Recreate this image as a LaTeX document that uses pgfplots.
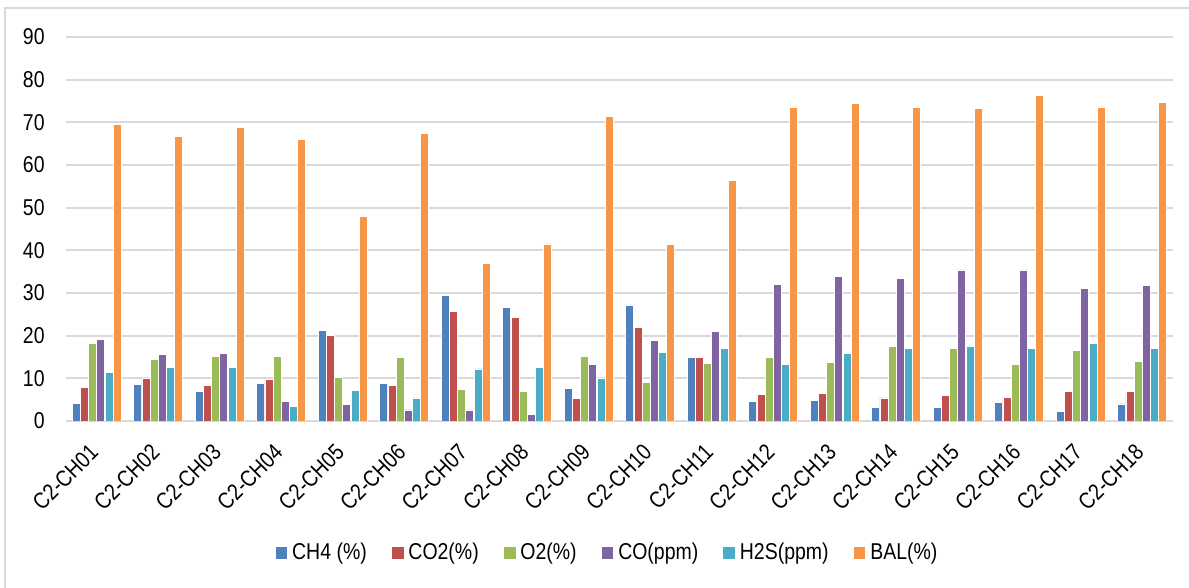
\documentclass[border=0pt]{standalone}
\usepackage{fontspec}
\setmainfont{Liberation Sans}[FakeStretch=0.85]
\usepackage{pgfplots}
\pgfplotsset{compat=1.18}

\definecolor{cCH}{HTML}{4F81BD}
\definecolor{cCO2}{HTML}{C0504D}
\definecolor{cO}{HTML}{9BBB59}
\definecolor{cCO}{HTML}{8064A2}
\definecolor{cH}{HTML}{4BACC6}
\definecolor{cBAL}{HTML}{F79646}
\definecolor{gridgray}{HTML}{D9D9D9}

\begin{document}
\begin{tikzpicture}[font=\fontsize{11.5}{13}\selectfont]
\useasboundingbox (0,0) rectangle (594.5bp,294bp);
\draw[gridgray, line width=1bp] (2.5bp,0) -- (2.5bp,290bp) -- (594.5bp,290bp);
\begin{axis}[
  at={(33bp,83.5bp)}, anchor=south west,
  scale only axis, width=553.5bp, height=192bp,
  xmin=-0.5, xmax=17.5, ymin=0, ymax=90,
  ybar=0.1bp, bar width=4bp,
  xtick={0,...,17},
  xticklabels={C2-CH01,C2-CH02,C2-CH03,C2-CH04,C2-CH05,C2-CH06,C2-CH07,C2-CH08,C2-CH09,C2-CH10,C2-CH11,C2-CH12,C2-CH13,C2-CH14,C2-CH15,C2-CH16,C2-CH17,C2-CH18},
  ytick={0,10,...,90},
  major tick length=0pt,
  axis line style={draw=none},
  ymajorgrids, grid style={gridgray, line width=1bp},
  /pgf/number format/assume math mode=true,
  yticklabel style={inner sep=0pt, xshift=-10.5bp},
  xticklabel style={rotate=45, anchor=north east, inner sep=0pt, xshift=-10.5bp, yshift=-4.5bp},
  legend columns=-1,
  legend style={draw=none, at={(0.4896,-0.34375)}, anchor=center,
    /tikz/every even column/.append style={column sep=10bp},
    nodes={inner xsep=2bp}},
  legend cell align=left,
  legend image code/.code={\fill[#1] (0bp,-3.2bp) rectangle (6.4bp,3.2bp);},
  every axis plot/.append style={draw=white, line width=0.4bp},
]
\addplot[fill=cCH] coordinates {(0,4.1) (1,8.6) (2,7.0) (3,8.8) (4,21.3) (5,8.8) (6,29.4) (7,26.7) (8,7.6) (9,27.1) (10,14.9) (11,4.6) (12,4.8) (13,3.1) (14,3.2) (15,4.3) (16,2.3) (17,4.0)};
\addplot[fill=cCO2] coordinates {(0,7.8) (1,9.9) (2,8.4) (3,9.7) (4,20.0) (5,8.4) (6,25.6) (7,24.2) (8,5.3) (9,22.0) (10,14.8) (11,6.3) (12,6.4) (13,5.4) (14,5.9) (15,5.6) (16,7.0) (17,6.9)};
\addplot[fill=cO] coordinates {(0,18.2) (1,14.4) (2,15.2) (3,15.1) (4,10.2) (5,14.8) (6,7.5) (7,7.0) (8,15.1) (9,9.1) (10,13.4) (11,14.9) (12,13.7) (13,17.5) (14,17.0) (15,13.3) (16,16.5) (17,14.0)};
\addplot[fill=cCO] coordinates {(0,19.1) (1,15.6) (2,15.9) (3,4.6) (4,3.8) (5,2.6) (6,2.6) (7,1.6) (8,13.3) (9,18.8) (10,20.9) (11,32.1) (12,33.9) (13,33.4) (14,35.4) (15,35.4) (16,31.1) (17,31.7)};
\addplot[fill=cH] coordinates {(0,11.3) (1,12.6) (2,12.6) (3,3.4) (4,7.1) (5,5.4) (6,12.2) (7,12.6) (8,9.9) (9,16.1) (10,16.9) (11,13.3) (12,15.9) (13,16.9) (14,17.6) (15,16.9) (16,18.1) (17,16.9)};
\addplot[fill=cBAL] coordinates {(0,69.4) (1,66.7) (2,68.9) (3,65.9) (4,48.0) (5,67.5) (6,36.9) (7,41.5) (8,71.4) (9,41.4) (10,56.4) (11,73.6) (12,74.4) (13,73.4) (14,73.3) (15,76.2) (16,73.6) (17,74.6)};
\legend{CH4 (\%),CO2(\%),O2(\%),CO(ppm),H2S(ppm),BAL(\%)}
\end{axis}
\end{tikzpicture}
\end{document}
